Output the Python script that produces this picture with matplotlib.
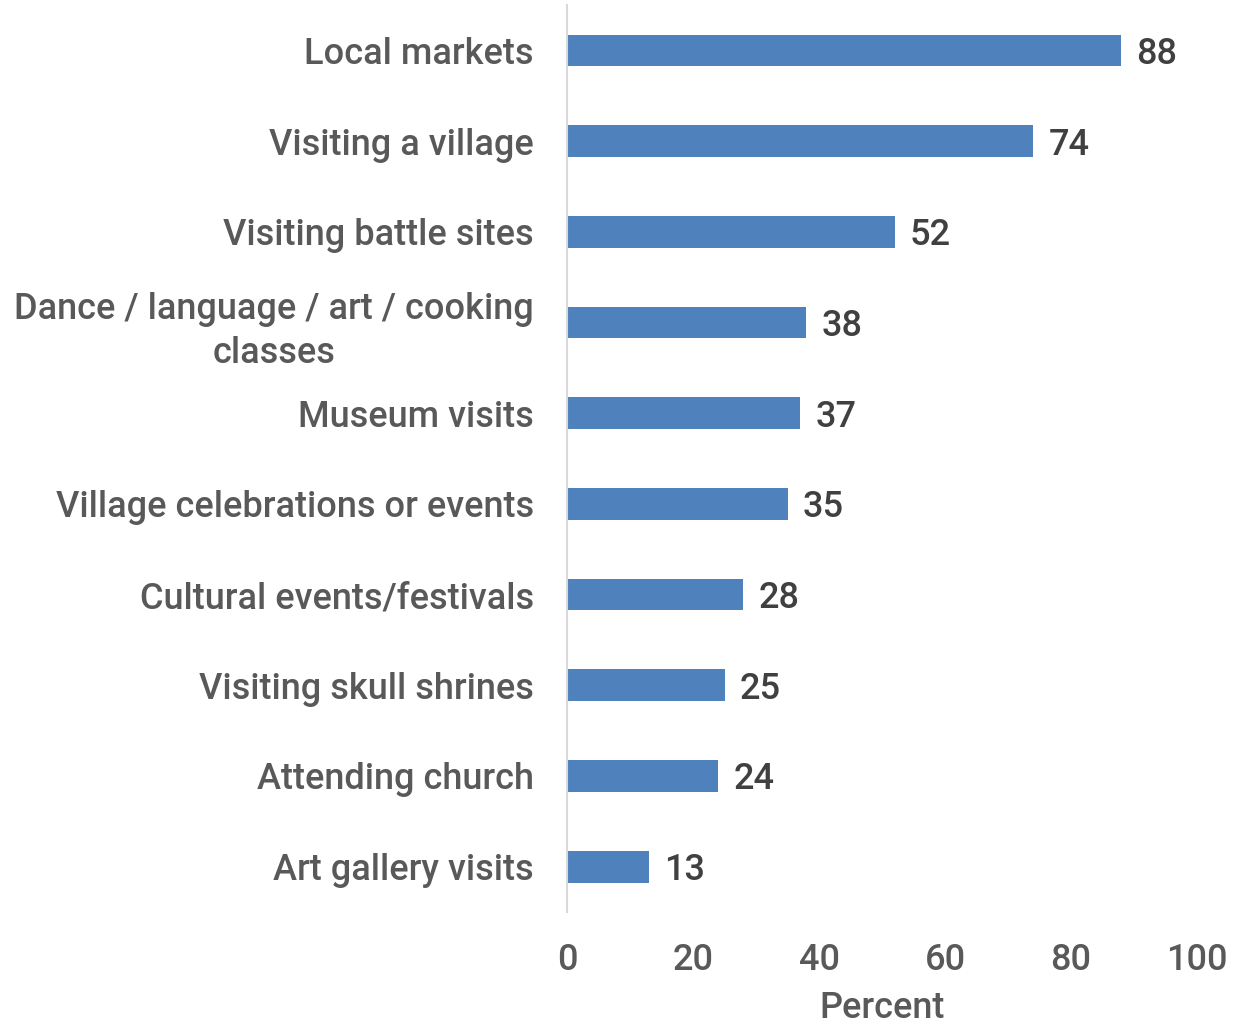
import matplotlib.pyplot as plt
import numpy as np

plt.rcParams["font.family"] = ["Roboto", "DejaVu Sans"]
plt.rcParams["font.weight"] = "medium"
plt.rcParams["axes.labelweight"] = "medium"

activities = [
    "Local markets",
    "Visiting a village",
    "Visiting battle sites",
    "Dance / language / art / cooking\nclasses",
    "Museum visits",
    "Village celebrations or events",
    "Cultural events/festivals",
    "Visiting skull shrines",
    "Attending church",
    "Art gallery visits",
]
percent = [88, 74, 52, 38, 37, 35, 28, 25, 24, 13]
x_ticks = [0, 20, 40, 60, 80, 100]

fig = plt.figure(figsize=(12.37, 10.24), dpi=100)
ax = fig.add_axes([0.4584, 0.1094, 0.5093, 0.8856])

y = np.arange(len(activities))
ax.barh(y, percent, height=0.35, color="#4F81BD")
for yi, v in zip(y, percent):
    ax.text(v + 2.4, yi, str(v), va="center_baseline", ha="left", fontsize=26,
            color="#404040", fontweight="medium")

ax.set_yticks(y)
ax.set_yticklabels(activities, fontsize=26, color="#595959", ha="right",
                   multialignment="center", linespacing=1.35)
ax.set_ylim(len(activities) - 0.5, -0.5)
ax.set_xlim(0, 100)
ax.set_xticks(x_ticks)
ax.set_xticklabels([str(t) for t in x_ticks], fontsize=26, color="#595959")
ax.set_xlabel("Percent", fontsize=26, color="#595959", labelpad=10)
ax.tick_params(axis="both", length=0)
ax.tick_params(axis="y", pad=24)
ax.tick_params(axis="x", pad=22)

for s in ["top", "right", "bottom"]:
    ax.spines[s].set_visible(False)
ax.spines["left"].set_color("#D9D9D9")
ax.spines["left"].set_linewidth(1.5)

fig.savefig("out.png", dpi=100)
